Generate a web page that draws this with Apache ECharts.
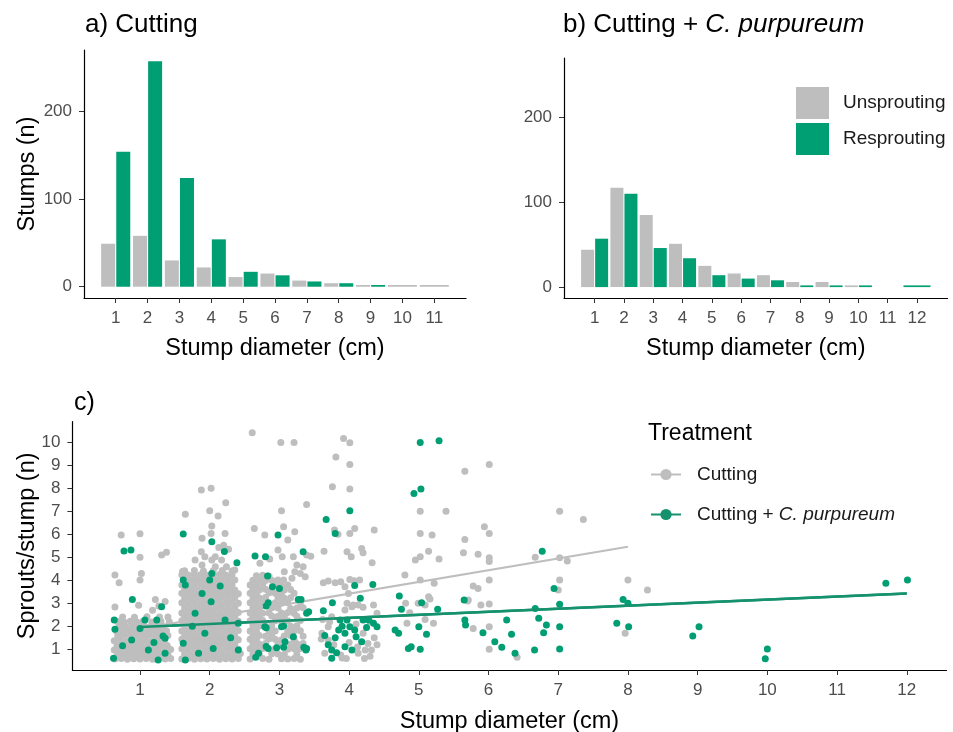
<!DOCTYPE html>
<html><head><meta charset="utf-8">
<script src="https://cdn.jsdelivr.net/npm/echarts@6/dist/echarts.min.js"></script>
<style>html,body{margin:0;padding:0;background:#fff}#c{width:953px;height:732px}</style>
</head><body><div id="c"></div>
<script>
// ---------- panel a / b : stump counts ----------
const diamA = [1,2,3,4,5,6,7,8,9];
const unsproutA = [49,58,30,22,11,15,7,4,2];
const resproutA = [154,257,124,54,17,13,6,4,2];
const soloUnsproutA = [[10,2],[11,2]];          // only unsprouting stumps at these sizes
const diamB = [1,2,3,4,5,6,7,8,9,10];
const unsproutB = [44,117,85,51,25,16,14,6,6,2];
const resproutB = [57,110,46,34,14,10,8,2,2,2];
const soloResproutB = [[12,2]];                 // only resprouting stumps at this size
const ticksA = [1,2,3,4,5,6,7,8,9,10,11];
const ticksB = [1,2,3,4,5,6,7,8,9,10,11,12];
const ticksCount = [0,100,200];

// ---------- panel c : sprouts per stump ----------
const ticksCx = [1,2,3,4,5,6,7,8,9,10,11,12];
const ticksCy = [1,2,3,4,5,6,7,8,9,10];
const trendCutting = [[1,1.89],[8,5.46]];
const trendPurpureum = [[1,1.97],[12,3.43]];

const cuttingPts = [
// diameter 1 cluster
[0.64,0.58],[0.73,0.6],[0.82,0.57],[0.91,0.59],[1.0,0.58],[1.09,0.6],[1.18,0.57],[1.27,0.59],[1.36,0.58],[1.44,0.6],
[0.68,0.78],[0.77,0.76],[0.86,0.79],[0.95,0.77],[1.04,0.78],[1.13,0.76],[1.22,0.79],[1.31,0.77],[1.4,0.78],
[0.63,0.97],[0.72,0.99],[0.81,0.96],[0.9,0.98],[0.99,0.97],[1.08,0.99],[1.17,0.96],[1.26,0.98],[1.35,0.97],[1.44,0.99],
[0.67,1.17],[0.76,1.19],[0.85,1.16],[0.94,1.18],[1.03,1.17],[1.12,1.19],[1.21,1.16],[1.3,1.18],[1.39,1.17],
[0.63,1.37],[0.72,1.39],[0.81,1.36],[0.9,1.38],[0.99,1.37],[1.08,1.39],[1.17,1.36],[1.26,1.38],[1.35,1.4],
[0.68,1.6],[0.77,1.62],[0.86,1.59],[0.95,1.61],[1.04,1.6],[1.13,1.62],[1.22,1.59],[1.31,1.61],[1.4,1.6],
[0.66,1.81],[0.75,1.79],[0.84,1.82],[0.93,1.8],[1.02,1.81],[1.11,1.79],[1.2,1.82],[1.29,1.8],[1.38,1.81],
[0.7,2.01],[0.79,1.99],[0.88,2.02],[0.97,2.0],[1.06,2.01],[1.15,1.99],[1.24,2.02],[1.33,2.0],
[0.68,2.21],[0.77,2.19],[0.86,2.22],[0.95,2.2],[1.04,2.21],[1.17,2.19],[1.3,2.22],[1.42,2.2],
[0.75,2.41],[0.92,2.39],[1.1,2.42],[1.28,2.4],[1.4,2.41],
// diameter 1 sparse
[0.73,5.97],[1.0,6.03],[1.0,5.0],[1.31,5.1],[1.38,5.22],[0.64,4.23],[0.7,3.89],[1.02,4.3],[1.0,4.02],
[0.64,2.84],[1.22,3.17],[1.36,3.08],[0.98,2.92],[1.27,2.88],[1.18,2.7],
// diameter 2 cluster
[1.6,0.58],[1.69,0.6],[1.78,0.57],[1.87,0.59],[1.96,0.58],[2.05,0.6],[2.14,0.57],[2.23,0.59],[2.32,0.58],[2.41,0.6],
[1.64,0.8],[1.73,0.79],[1.82,0.81],[1.91,0.8],[2.0,0.78],[2.09,0.8],[2.18,0.81],[2.27,0.79],[2.36,0.8],[2.44,0.82],
[1.6,1.02],[1.69,1.01],[1.78,1.03],[1.87,1.02],[1.96,1.0],[2.05,1.02],[2.14,1.03],[2.23,1.01],[2.32,1.02],[2.41,1.0],
[1.64,1.24],[1.73,1.23],[1.82,1.25],[1.91,1.24],[2.0,1.22],[2.09,1.24],[2.18,1.25],[2.27,1.23],[2.36,1.24],
[1.6,1.44],[1.69,1.43],[1.78,1.45],[1.87,1.44],[1.96,1.42],[2.05,1.44],[2.14,1.45],[2.23,1.43],[2.32,1.44],[2.41,1.42],
[1.64,1.58],[1.73,1.6],[1.82,1.57],[1.91,1.59],[2.0,1.58],[2.09,1.6],[2.18,1.57],[2.27,1.59],[2.36,1.58],
[1.6,1.8],[1.69,1.79],[1.78,1.81],[1.87,1.8],[1.96,1.78],[2.05,1.8],[2.14,1.81],[2.23,1.79],[2.32,1.8],[2.41,1.82],
[1.64,2.02],[1.73,2.01],[1.82,2.03],[1.91,2.02],[2.0,2.0],[2.09,2.02],[2.18,2.03],[2.27,2.01],[2.36,2.02],
[1.6,2.24],[1.69,2.23],[1.78,2.25],[1.87,2.24],[1.96,2.22],[2.05,2.24],[2.14,2.25],[2.23,2.23],[2.32,2.24],[2.41,2.22],
[1.64,2.44],[1.73,2.43],[1.82,2.45],[1.91,2.44],[2.0,2.42],[2.09,2.44],[2.18,2.45],[2.27,2.43],[2.36,2.44],
[1.6,2.58],[1.69,2.6],[1.78,2.57],[1.87,2.59],[1.96,2.58],[2.05,2.6],[2.14,2.57],[2.23,2.59],[2.32,2.58],[2.41,2.6],
[1.64,2.8],[1.73,2.79],[1.82,2.81],[1.91,2.8],[2.0,2.78],[2.09,2.8],[2.18,2.81],[2.27,2.79],[2.36,2.8],
[1.6,3.02],[1.69,3.01],[1.78,3.03],[1.87,3.02],[1.96,3.0],[2.05,3.02],[2.14,3.03],[2.23,3.01],[2.32,3.02],[2.41,3.0],
[1.64,3.24],[1.73,3.23],[1.82,3.25],[1.91,3.24],[2.0,3.22],[2.09,3.24],[2.18,3.25],[2.27,3.23],[2.36,3.24],
[1.6,3.44],[1.69,3.43],[1.78,3.45],[1.87,3.44],[1.96,3.42],[2.05,3.44],[2.14,3.45],[2.23,3.43],[2.32,3.44],[2.41,3.42],
[1.64,3.58],[1.73,3.6],[1.82,3.57],[1.91,3.59],[2.0,3.58],[2.09,3.6],[2.18,3.57],[2.27,3.59],[2.36,3.58],
[1.6,3.8],[1.69,3.79],[1.78,3.81],[1.87,3.8],[1.96,3.78],[2.05,3.8],[2.14,3.81],[2.23,3.79],[2.32,3.8],
[1.64,4.02],[1.73,4.01],[1.82,4.03],[1.91,4.02],[2.0,4.0],[2.09,4.02],[2.18,4.03],[2.27,4.01],[2.36,4.02],
[1.6,4.24],[1.69,4.23],[1.78,4.25],[1.87,4.24],[1.96,4.22],[2.05,4.24],[2.14,4.25],[2.23,4.23],[2.32,4.24],
[1.64,4.42],[1.78,4.43],[1.91,4.41],[2.05,4.42],[2.18,4.43],[2.32,4.41],
// diameter 2 sparse
[1.88,7.93],[2.02,8.0],[2.23,7.37],[2.0,7.03],[2.12,6.8],[1.65,6.87],[2.03,6.36],[2.22,6.04],[1.89,5.83],[2.02,6.04],
[2.2,5.53],[2.13,5.43],[2.27,5.35],[1.88,5.24],[1.93,5.03],[2.08,5.03],[2.03,4.88],[2.17,4.88],
[1.79,4.88],[1.89,4.67],[2.08,4.59],[2.24,4.59],[2.36,4.45],[1.61,4.38],
// diameter 3 cluster
[2.58,0.58],[2.76,0.6],[2.85,0.57],[3.03,0.59],[3.12,0.58],[3.21,0.6],[3.3,0.57],
[2.62,0.8],[2.71,0.79],[2.89,0.81],[2.98,0.8],[3.07,0.78],[3.25,0.8],
[2.58,1.02],[2.67,1.01],[2.76,1.03],[2.94,1.02],[3.12,1.0],[3.21,1.02],[3.3,1.03],
[2.62,1.24],[2.71,1.23],[2.8,1.25],[2.98,1.24],[3.16,1.22],[3.25,1.24],[3.34,1.25],
[2.58,1.44],[2.67,1.43],[2.85,1.45],[2.94,1.44],[3.03,1.42],[3.21,1.44],
[2.62,1.58],[2.71,1.6],[2.8,1.57],[2.89,1.59],[3.07,1.58],[3.16,1.6],[3.34,1.57],
[2.58,1.8],[2.67,1.79],[2.85,1.81],[2.94,1.8],[3.12,1.78],[3.21,1.8],[3.3,1.81],
[2.62,2.02],[2.71,2.01],[2.8,2.03],[2.89,2.02],[3.16,2.0],[3.25,2.02],
[2.58,2.24],[2.67,2.23],[2.76,2.25],[2.94,2.24],[3.03,2.22],[3.12,2.24],[3.3,2.25],
[2.62,2.44],[2.71,2.43],[2.89,2.45],[2.98,2.44],[3.07,2.42],[3.25,2.44],
[2.58,2.58],[2.67,2.6],[2.76,2.57],[2.85,2.59],[3.03,2.58],[3.12,2.6],[3.21,2.57],
[2.62,2.8],[2.71,2.79],[2.89,2.81],[2.98,2.8],[3.16,2.78],[3.25,2.8],[3.34,2.81],
[2.58,3.02],[2.67,3.01],[2.76,3.03],[2.94,3.02],[3.03,3.0],[3.12,3.02],[3.3,3.03],
[2.62,3.24],[2.71,3.23],[2.8,3.25],[2.98,3.24],[3.07,3.22],[3.16,3.24],
[2.58,3.44],[2.67,3.43],[2.85,3.45],[2.94,3.44],[3.03,3.42],[3.21,3.44],
[2.62,3.6],[2.71,3.58],[2.8,3.61],[2.89,3.6],[3.07,3.58],[3.16,3.6],
[2.58,3.8],[2.67,3.79],[2.76,3.81],[2.94,3.8],[3.03,3.78],[3.12,3.8],
[2.62,4.0],[2.71,4.01],[2.8,3.99],[2.89,4.0],[2.98,4.02],
[2.67,4.2],[2.76,4.22],[2.85,4.19],
// diameter 3 sparse
[2.61,10.42],[3.02,10.0],[3.21,10.0],[3.39,7.3],[3.03,7.03],[2.64,6.26],[2.79,5.97],[3.06,6.33],[3.12,5.75],[3.22,6.11],
[2.98,5.32],[3.04,5.03],[3.2,5.03],[3.39,5.1],[3.45,5.05],[2.72,4.74],[2.86,4.93],[3.25,4.67],[3.34,4.59],[3.3,4.3],
[3.37,4.16],[3.22,4.37],[3.07,4.37],[3.18,4.09],[3.06,4.01],
// diameter 4
[3.92,10.17],[4.01,9.98],[3.81,9.37],[4.01,9.04],[3.76,8.07],[4.01,7.97],[3.79,6.19],[3.84,6.0],[4.01,6.04],[4.08,6.26],
[4.36,6.19],[3.64,5.26],[3.97,5.24],[4.03,5.03],[4.18,5.39],[4.2,5.2],[4.33,4.77],[3.63,3.9],[3.7,3.97],[3.8,3.9],
[3.88,3.94],[4.01,4.04],[4.07,3.98],[4.15,4.01],[3.97,3.0],[4.06,2.93],[4.2,2.83],[4.04,2.85],[4.13,2.93],[3.94,2.71],
[4.4,2.57],[3.75,2.42],[3.99,3.43],[3.94,3.72],[4.35,2.93],[3.61,1.7],[3.7,1.4],[3.65,0.83],[4.13,0.83],[4.23,0.97],
[4.32,0.97],[3.7,1.98],[4.36,1.5],[4.3,0.7],[3.9,0.62],[4.2,1.7],[3.62,2.3],[3.72,2.2],[3.6,1.45],[3.78,1.2],
[3.88,0.75],[4.0,1.3],[4.12,1.1],[4.27,1.25],[4.4,1.2],[4.22,0.6],[3.96,0.6],[4.3,2.2],[4.1,2.1],
// diameter 5
[5.02,7.01],[5.39,7.01],[5.02,6.04],[5.19,5.97],[5.14,5.27],[5.02,5.03],[4.95,4.88],[5.29,4.93],[4.8,4.23],[5.02,4.01],
[5.22,3.87],[4.99,3.0],[5.09,2.93],[5.14,3.29],[5.16,3.19],[4.87,2.59],[5.09,2.3],[5.21,2.13],[4.83,2.13],[4.81,3.0],
// diameter 6
[5.66,8.75],[6.01,9.04],[5.94,6.33],[6.01,6.04],[5.66,5.78],[5.64,5.2],[5.85,5.13],[6.01,4.98],[6.01,4.82],[5.78,3.75],
[5.85,3.65],[6.01,4.01],[5.71,3.14],[5.89,2.93],[6.01,2.97],[5.7,3.1],[5.78,1.91],[6.01,1.98],[6.01,1.0],[6.41,0.66],
// diameter 7 and 8
[7.02,7.01],[7.36,6.65],[6.67,5.0],[7.02,4.98],[7.13,4.84],[7.02,4.01],[7.0,3.58],
[8.0,4.01],[8.28,3.58],[7.96,1.7]
];

const purpureumPts = [
// diameter 1
[0.77,5.28],[0.87,5.32],[0.89,3.17],[0.63,2.27],[0.64,1.87],[1.31,2.85],[1.33,1.58],[1.07,2.27],[1.24,2.27],[1.36,1.48],
[0.88,1.4],[1.12,0.97],[1.26,0.54],[0.62,0.61],[1.36,0.83],[1.0,1.9],[0.75,1.15],[1.2,1.3],
// diameter 2
[1.62,6.01],[2.03,5.68],[2.21,5.25],[2.39,4.77],[1.62,4.01],[1.65,3.8],[2.03,4.3],[2.0,4.01],[2.02,3.07],[1.62,1.26],
[2.05,1.04],[1.93,1.7],[1.84,0.83],[2.22,2.27],[2.41,2.13],[2.41,0.97],[1.89,3.43],[1.79,2.57],[1.65,0.53],[2.15,3.75],
[2.3,1.5],[1.75,2.0],
// diameter 3
[2.65,5.06],[2.8,5.03],[2.98,5.97],[3.34,5.24],[2.83,4.19],[2.9,3.72],[3.0,3.65],[3.27,3.17],[3.31,3.17],[3.39,2.57],
[2.84,3.03],[2.81,2.88],[2.81,1.94],[2.66,0.65],[2.81,1.12],[2.96,1.07],[3.06,1.09],[3.35,1.09],[3.38,0.97],[3.06,2.01],
[3.2,1.55],[2.79,1.98],[3.03,1.98],[2.7,0.83],[2.84,1.04],[3.08,1.33],[3.39,1.04],[3.42,2.63],
// diameter 4
[3.67,6.65],[4.01,7.03],[3.8,6.04],[3.63,2.68],[3.76,3.03],[4.08,3.77],[4.34,3.82],[4.16,3.22],[3.75,0.97],[3.75,0.61],
[3.85,1.84],[3.94,1.7],[3.87,2.27],[3.97,2.27],[4.01,1.98],[4.08,1.84],[4.2,2.27],[4.28,2.27],[4.35,2.13],[4.4,1.98],
[3.94,1.11],[4.04,0.97],[4.18,1.33],[3.8,1.5],[3.9,2.0],[4.1,1.55],[4.25,1.95],[3.7,1.2],[3.82,0.85],[3.65,1.6],
[4.72,3.32],[4.75,2.74],[4.66,1.84],[4.71,1.7],
// diameter 5
[5.02,9.99],[5.29,10.07],[4.93,7.78],[5.03,7.97],[5.04,3.03],[5.27,2.74],[5.0,1.98],[5.11,1.65],[4.85,1.04],[4.89,1.11],
[5.02,1.0],
// diameter 6
[5.65,3.14],[5.66,2.27],[5.67,2.06],[5.92,1.72],[6.09,1.33],[6.19,1.09],[6.26,2.27],[6.33,1.65],[6.38,0.83],
// diameter 7
[6.77,5.27],[6.94,3.65],[6.66,0.97],[6.67,2.78],[6.72,2.35],[6.83,2.06],[6.79,1.72],[7.02,2.96],[7.02,1.98],[7.02,1.01],
// diameter 8 - 12
[7.93,3.17],[8.0,3.0],[7.84,2.13],[8.01,1.98],[8.93,1.58],[9.02,1.98],[10.0,1.01],[9.97,0.59],[11.7,3.87],[12.01,4.01]
];

// ---------- styling ----------
const GREY = '#BEBEBE', GREEN = '#009E73', GREEN_LINE = '#16916E';
const FONT = '"Liberation Sans", Arial, sans-serif';
const tickLabel = {color:'#4D4D4D', fontSize:17, fontFamily:FONT, margin:12};
const axisTitle = {color:'#000', fontSize:23.5, fontFamily:FONT};
const axisLine = {show:true, onZero:false, lineStyle:{color:'#000', width:1.2}};

function xVal(grid, min, max, ticks, name, gap) {
  return {type:'value', gridIndex:grid, min, max, name, nameLocation:'middle', nameGap:gap, nameMoveOverlap:false,
    nameTextStyle:axisTitle, axisLine, splitLine:{show:false},
    axisTick:{show:true, length:5, customValues:ticks, lineStyle:{color:'#333'}},
    axisLabel:Object.assign({customValues:ticks}, tickLabel)};
}
function hiddenX(grid, min, max) {
  return {type:'value', gridIndex:grid, min, max, show:false, splitLine:{show:false}};
}
function yVal(grid, min, max, ticks, name, gap) {
  return {type:'value', gridIndex:grid, min, max, name, nameLocation:'middle', nameGap:gap, nameRotate:90, nameMoveOverlap:false,
    nameTextStyle:axisTitle, axisLine, splitLine:{show:false},
    axisTick:{show:true, length:5, customValues:ticks, lineStyle:{color:'#333'}},
    axisLabel:Object.assign({customValues:ticks}, tickLabel)};
}

const chart = echarts.init(document.getElementById('c'), null, {renderer:'canvas'});
chart.setOption({
  animation:false,
  backgroundColor:'#fff',
  title:[
    {text:'a) Cutting', left:85, top:12, padding:0, textStyle:{fontSize:26, fontWeight:'normal', color:'#000', fontFamily:FONT}},
    {text:'{n|b) Cutting + }{i|C. purpureum}', left:563, top:12, padding:0,
      textStyle:{fontWeight:'normal', rich:{n:{fontSize:26, fontWeight:'normal', color:'#000', fontFamily:FONT},
        i:{fontSize:26, fontWeight:'normal', fontStyle:'italic', color:'#000', fontFamily:FONT}}}},
    {text:'c)', left:74, top:391, padding:0, textStyle:{fontSize:25, fontWeight:'normal', color:'#000', fontFamily:FONT}},
    {text:'Treatment', left:648, top:422, padding:0, textStyle:{fontSize:23, fontWeight:'normal', color:'#000', fontFamily:FONT}}
  ],
  legend:[
    {data:['Unsprouting','Resprouting'], orient:'vertical', left:796, top:87, padding:0, itemWidth:33, itemHeight:32, itemGap:4,
      icon:'rect', selectedMode:false, textStyle:{fontSize:19, color:'#1a1a1a', fontFamily:FONT, padding:[4,0,0,9]}},
    {data:['Cutting','Cutting + C. purpureum'], orient:'vertical', left:650, top:465, padding:0, itemWidth:30, itemHeight:14, itemGap:21,
      selectedMode:false,
      formatter:n => n === 'Cutting' ? '{n|Cutting}' : '{n|Cutting + }{i|C. purpureum}',
      textStyle:{padding:[0,0,0,11], rich:{n:{fontSize:19, color:'#1a1a1a', fontFamily:FONT}, i:{fontSize:19, fontStyle:'italic', color:'#1a1a1a', fontFamily:FONT}}}}
  ],
  grid:[
    {left:84, top:50, width:382, height:248, outerBoundsMode:'none'},
    {left:564, top:58, width:383.6, height:240, outerBoundsMode:'none'},
    {left:72.4, top:421.7, width:874.1, height:248.3, outerBoundsMode:'none'}
  ],
  xAxis:[
    xVal(0, 0.005, 11.995, ticksA, 'Stump diameter (cm)', 39),
    hiddenX(0, 0.005, 11.995),
    xVal(1, -0.045, 13.045, ticksB, 'Stump diameter (cm)', 39),
    hiddenX(1, -0.045, 13.045),
    xVal(2, 0.03, 12.57, ticksCx, 'Stump diameter (cm)', 40)
  ],
  yAxis:[
    yVal(0, -12.85, 269.85, ticksCount, 'Stumps (n)', 44),
    yVal(1, -12.85, 269.85, ticksCount, '', 44),
    yVal(2, 0.1, 10.9, ticksCy, 'Sprouts/stump (n)', 33)
  ],
  series:[
    {type:'bar', name:'Unsprouting', xAxisIndex:0, yAxisIndex:0, barWidth:14, barGap:'8%', itemStyle:{color:GREY},
      data:diamA.map((d,i)=>[d, unsproutA[i]])},
    {type:'bar', name:'Resprouting', xAxisIndex:0, yAxisIndex:0, barWidth:14, barGap:'8%', itemStyle:{color:GREEN},
      data:diamA.map((d,i)=>[d, resproutA[i]])},
    {type:'bar', name:'Unsprouting', xAxisIndex:1, yAxisIndex:0, barWidth:29, itemStyle:{color:GREY}, data:soloUnsproutA},
    {type:'bar', name:'Unsprouting', xAxisIndex:2, yAxisIndex:1, barWidth:13, barGap:'8%', itemStyle:{color:GREY},
      data:diamB.map((d,i)=>[d, unsproutB[i]])},
    {type:'bar', name:'Resprouting', xAxisIndex:2, yAxisIndex:1, barWidth:13, barGap:'8%', itemStyle:{color:GREEN},
      data:diamB.map((d,i)=>[d, resproutB[i]])},
    {type:'bar', name:'Resprouting', xAxisIndex:3, yAxisIndex:1, barWidth:27, itemStyle:{color:GREEN}, data:soloResproutB},
    {type:'line', name:'Cutting', xAxisIndex:4, yAxisIndex:2, data:trendCutting, showSymbol:false, symbol:'circle', symbolSize:7,
      itemStyle:{color:GREY}, lineStyle:{color:GREY, width:2.2}, z:1},
    {type:'line', name:'Cutting + C. purpureum', xAxisIndex:4, yAxisIndex:2, data:trendPurpureum, showSymbol:false, symbol:'circle', symbolSize:7,
      itemStyle:{color:GREEN_LINE}, lineStyle:{color:GREEN_LINE, width:2.6}, z:1},
    {type:'scatter', name:'cutting points', xAxisIndex:4, yAxisIndex:2, data:cuttingPts, symbolSize:7,
      itemStyle:{color:GREY, opacity:1}, z:2, silent:true},
    {type:'scatter', name:'purpureum points', xAxisIndex:4, yAxisIndex:2, data:purpureumPts, symbolSize:7,
      itemStyle:{color:GREEN, opacity:1}, z:3, silent:true},
    {type:'line', name:'Purpureum line top', xAxisIndex:4, yAxisIndex:2, data:trendPurpureum, showSymbol:false,
      lineStyle:{color:GREEN_LINE, width:2.6}, z:4, silent:true}
  ]
});
</script></body></html>
